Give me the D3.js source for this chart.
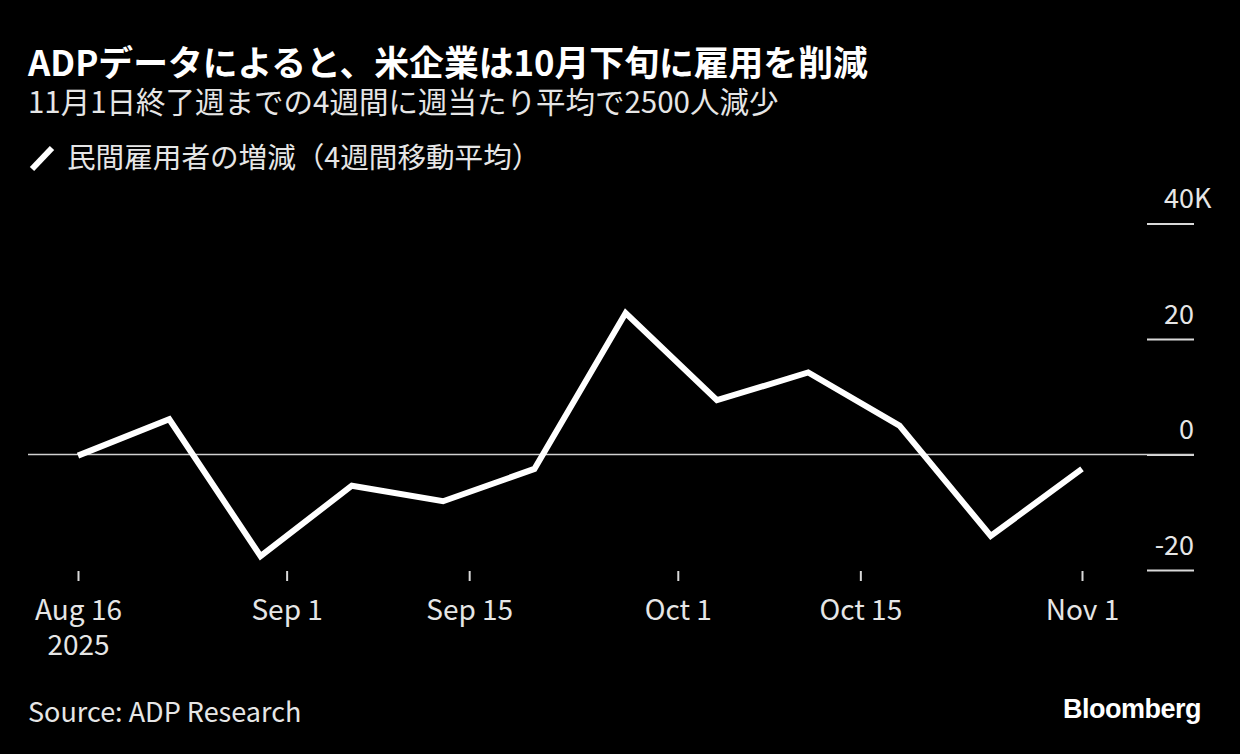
<!DOCTYPE html>
<html><head><meta charset="utf-8">
<script src="https://cdn.jsdelivr.net/npm/d3@7"></script>
<style>
html,body{margin:0;padding:0;background:#000;}
svg{display:block;}
</style></head>
<body>
<svg id="chart" width="1240" height="754"></svg>
<script>
const title = "ADPデータによると、米企業は10月下旬に雇用を削減";
const subtitle = "11月1日終了週までの4週間に週当たり平均で2500人減少";
const legendLabel = "民間雇用者の増減（4週間移動平均）";
const sourceText = "Source: ADP Research";
const brand = "Bloomberg";
const weekEnding = ["2025-08-16","2025-08-23","2025-08-30","2025-09-06","2025-09-13","2025-09-20","2025-09-27","2025-10-04","2025-10-11","2025-10-18","2025-10-25","2025-11-01"];
const employmentChangeK = [-0.2, 6.1, -17.6, -5.4, -8.1, -2.5, 24.5, 9.4, 14.2, 5.0, -14.1, -2.5];
const xTickDates = ["2025-08-16","2025-09-01","2025-09-15","2025-10-01","2025-10-15","2025-11-01"];
const xTickLabels = [["Aug 16","2025"],["Sep 1"],["Sep 15"],["Oct 1"],["Oct 15"],["Nov 1"]];
const yTicks = [-20, 0, 20, 40];
const yTickLabels = ["-20","0","20","40"];
const yUnit = "K";

const parse = d3.utcParse("%Y-%m-%d");
const data = weekEnding.map((d,i)=>({date:parse(d), value:employmentChangeK[i]}));
const svg = d3.select("#chart");
const JP = "'Noto Sans CJK JP', 'Noto Sans', sans-serif";
const txt = "#e6e6e6";

svg.append("rect").attr("width",1240).attr("height",754).attr("fill","#000");

const x = d3.scaleUtc().domain([parse(xTickDates[0]), parse(xTickDates[xTickDates.length-1])]).range([78,1082]);
const y = d3.scaleLinear().domain([-20,40]).range([570,223.5]);

// Title etc.
svg.append("text").attr("x",28).attr("y",76).attr("fill","#fff")
  .style("font-family",JP).style("font-weight",700).style("font-size","34.8px").text(title);
svg.append("text").attr("x",28).attr("y",113).attr("fill",txt)
  .style("font-family",JP).style("font-size","29.5px").text(subtitle);
// legend
svg.append("line").attr("x1",32).attr("y1",169).attr("x2",52).attr("y2",148)
  .attr("stroke","#fff").attr("stroke-width",6).attr("stroke-linecap","butt");
svg.append("text").attr("x",67).attr("y",168).attr("fill",txt)
  .style("font-family",JP).style("font-size","28.6px").text(legendLabel);

// y axis
const yAxis = d3.axisLeft(y).tickValues(yTicks).tickSize(47).tickFormat((d,i)=>yTickLabels[i]);
const gy = svg.append("g").attr("transform","translate(1194,0)").call(yAxis);
gy.select(".domain").remove();
gy.selectAll(".tick line").attr("stroke","#d9d9d9").attr("stroke-width",2);
gy.selectAll(".tick text").attr("x",0).attr("y",-16).attr("dy",0)
  .attr("text-anchor","end").attr("fill",txt)
  .style("font-family",JP).style("font-size","27px");
gy.append("text").attr("x",0).attr("y",y(40)-16).attr("fill",txt)
  .attr("text-anchor","start").style("font-family",JP).style("font-size","27px").text(yUnit);

// zero line
svg.append("line").attr("x1",28).attr("x2",1194).attr("y1",y(0)).attr("y2",y(0))
  .attr("stroke","#d0d0d0").attr("stroke-width",1.6);

// x axis
const xAxis = d3.axisBottom(x).tickValues(xTickDates.map(parse)).tickSize(10).tickFormat("");
const gx = svg.append("g").attr("transform","translate(0,571)").call(xAxis);
gx.select(".domain").remove();
gx.selectAll(".tick line").attr("stroke","#d9d9d9").attr("stroke-width",2);
gx.selectAll(".tick").each(function(d,i){
  const t = d3.select(this).append("text").attr("fill",txt).attr("text-anchor","middle")
    .style("font-family",JP).style("font-size","28px");
  xTickLabels[i].forEach((s,j)=>{
    t.append("tspan").attr("x",0).attr("y",49+j*35).text(s);
  });
});

// line
const line = d3.line().x(d=>x(d.date)).y(d=>y(d.value));
svg.append("path").datum(data).attr("d",line).attr("fill","none")
  .attr("stroke","#fff").attr("stroke-width",6).attr("stroke-linejoin","miter");

// footer
svg.append("text").attr("x",28).attr("y",722).attr("fill",txt)
  .style("font-family",JP).style("font-size","27px").text(sourceText);
svg.append("text").attr("x",1201).attr("y",718).attr("fill","#fff").attr("text-anchor","end")
  .style("font-family","'Liberation Sans', Arial, sans-serif").style("font-weight",700)
  .style("font-size","27px").style("letter-spacing","-0.5px").text(brand);
</script>
</body></html>
